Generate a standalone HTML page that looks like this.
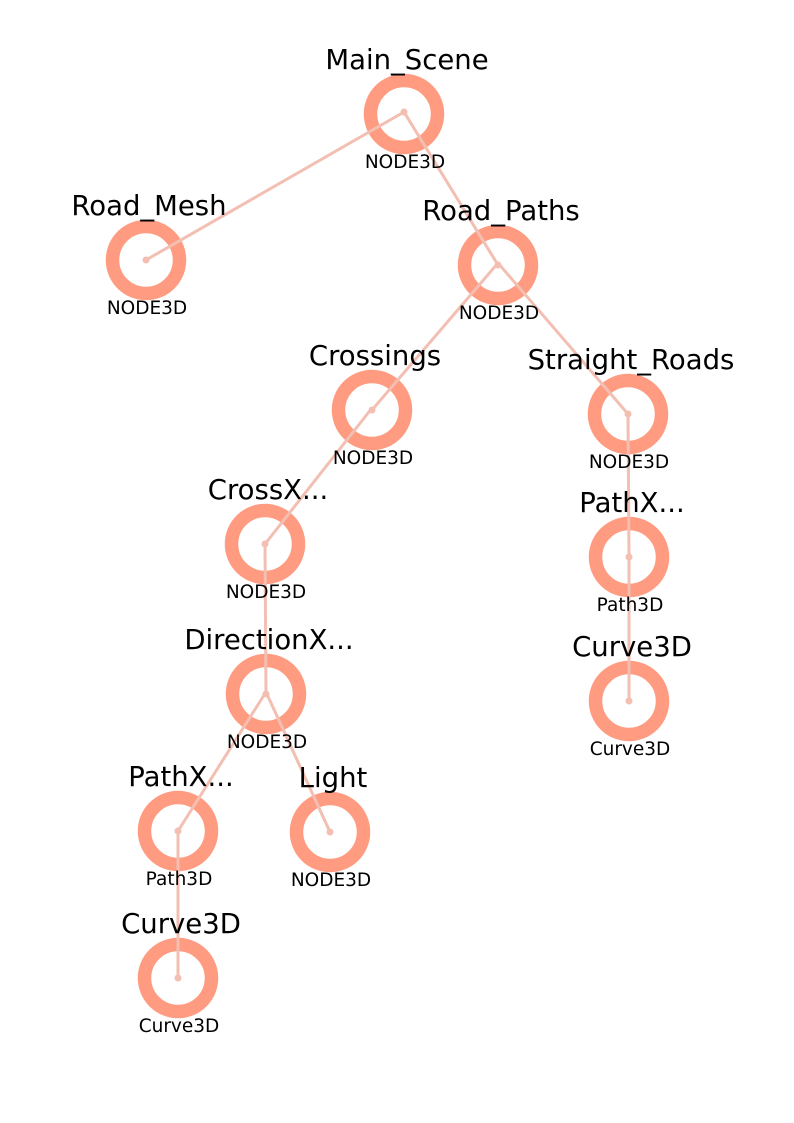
<!DOCTYPE html>
<html><head><meta charset="utf-8"><style>
html,body{margin:0;padding:0;background:#fff;width:794px;height:1123px;overflow:hidden}
svg text{font-family:"DejaVu Sans","Liberation Sans",sans-serif;fill:#000}
</style></head><body>
<svg id="chart" width="794" height="1123" viewBox="0 0 794 1123"></svg>
<script>
const names=["Main_Scene","Road_Mesh","Road_Paths","Crossings","Straight_Roads","CrossX...","PathX...","Curve3D","DirectionX...","PathX...","Light","Curve3D"];
const types=["NODE3D","NODE3D","NODE3D","NODE3D","NODE3D","NODE3D","Path3D","Curve3D","NODE3D","Path3D","NODE3D","Curve3D"];
const xs=[404,146,498,372,628,265,629,629,266,178,330,178];
const ys=[114,260,265,410,414,544,557,701,694,831,832,978];
const parents=[-1,0,0,2,2,3,4,6,5,8,8,9];
const svg=document.getElementById('chart');
const NS="http://www.w3.org/2000/svg";
function mk(t,a){const e=document.createElementNS(NS,t);for(const k in a)e.setAttribute(k,a[k]);return e;}
for(let i=0;i<names.length;i++){
  const c=mk('circle',{cx:xs[i],cy:ys[i],r:33.5,fill:'none',stroke:'#ff9b80','stroke-width':13.5});
  
  
  svg.appendChild(c);
}
for(let i=0;i<names.length;i++){
  const p=parents[i]; if(p<0) continue;
  const l=mk('line',{x1:xs[p],y1:ys[p]-2,x2:xs[i],y2:ys[i],stroke:'#f2bfb2','stroke-width':3});
  
  
  svg.appendChild(l);
}
for(let i=0;i<names.length;i++){
  const d=mk('circle',{cx:xs[i],cy:ys[i]-(i==0?2:0),r:3.5,fill:'#f2bfb2'});
  
  
  svg.appendChild(d);
  const t=mk('text',{x:xs[i]+3,y:ys[i]-45,'font-size':27.5,'text-anchor':'middle'});
  t.textContent=names[i];
  
  
  svg.appendChild(t);
  const s=mk('text',{x:xs[i]+1,y:ys[i]+54,'font-size':18.5,'text-anchor':'middle'});
  s.textContent=types[i];
  
  
  svg.appendChild(s);
}
</script>
</body></html>
